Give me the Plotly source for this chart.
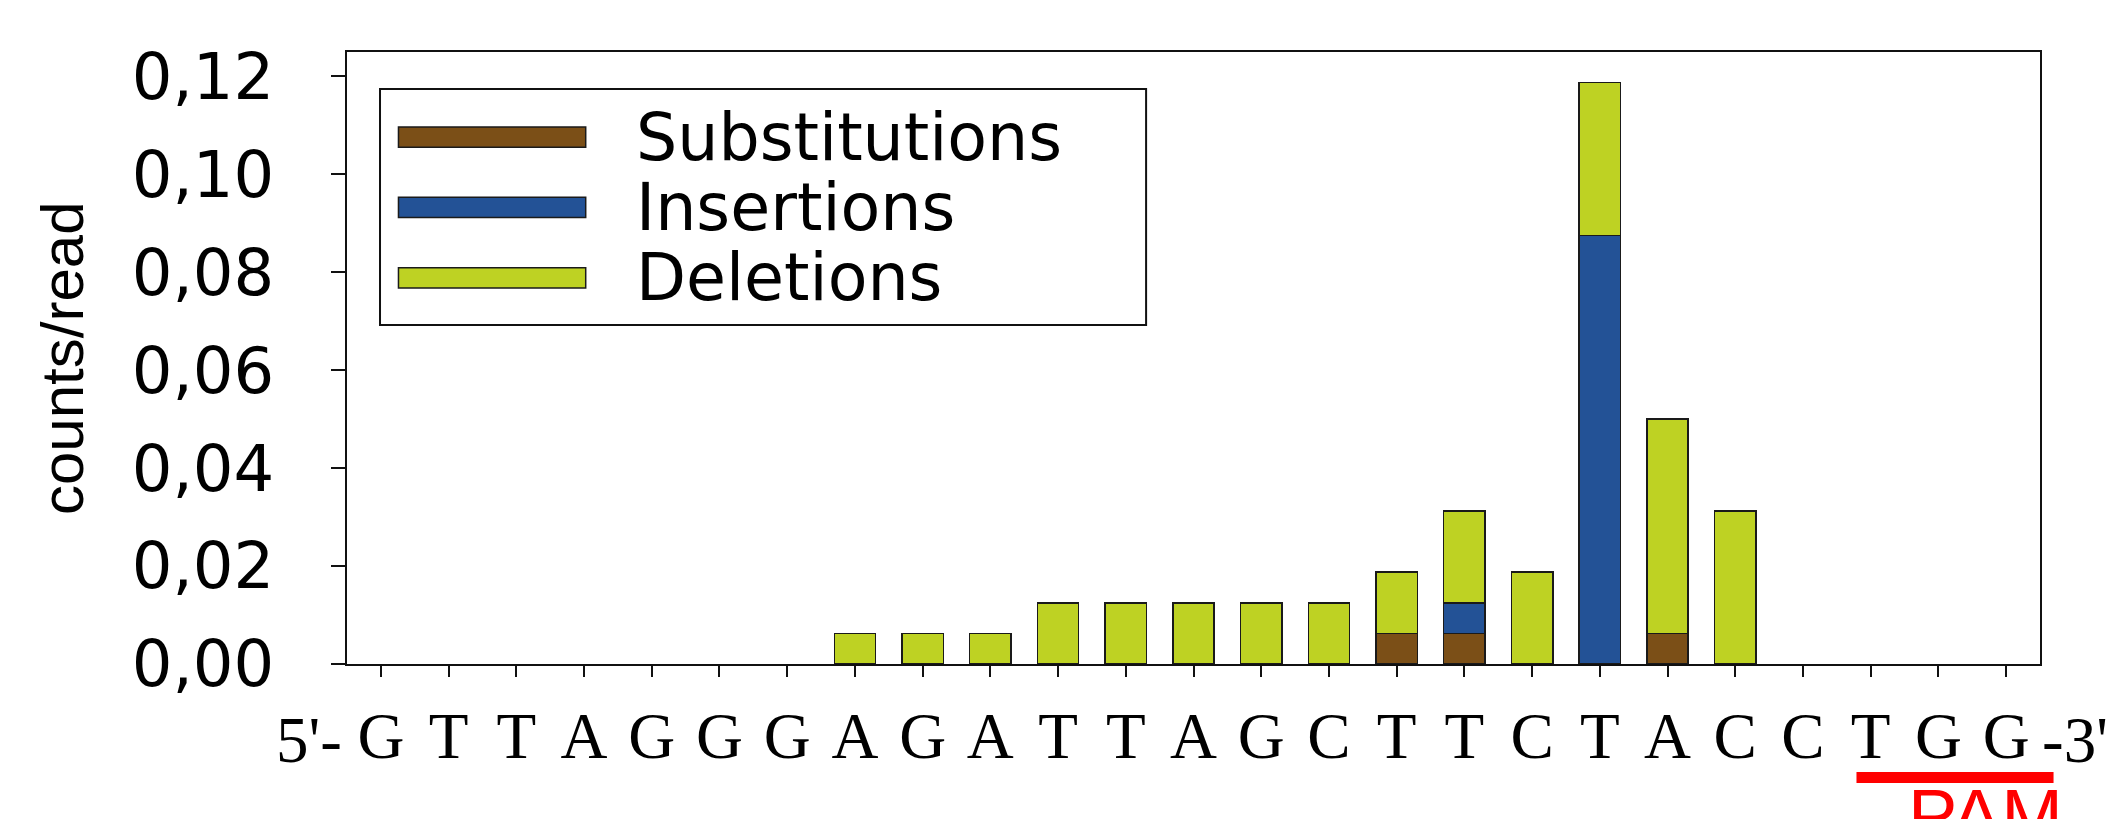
import plotly.graph_objects as go

# ---- data ----
bases = list("GTTAGGGAGATTAGCTTCTACCTGG")
series_names = ["Substitutions", "Insertions", "Deletions"]
substitutions = [0, 0, 0, 0, 0, 0, 0, 0, 0, 0, 0, 0, 0, 0, 0,
                 0.00625, 0.00625, 0, 0, 0.00625, 0, 0, 0, 0, 0]
insertions = [0, 0, 0, 0, 0, 0, 0, 0, 0, 0, 0, 0, 0, 0, 0,
              0, 0.00625, 0, 0.0875, 0, 0, 0, 0, 0, 0]
deletions = [0, 0, 0, 0, 0, 0, 0, 0.00625, 0.00625, 0.00625, 0.0125, 0.0125, 0.0125, 0.0125, 0.0125,
             0.0125, 0.01875, 0.01875, 0.03125, 0.04375, 0.03125, 0, 0, 0, 0]
colors = ["#7B4F17", "#235296", "#BED223"]
y_ticks = [0, 0.02, 0.04, 0.06, 0.08, 0.10, 0.12]

xs = list(range(len(bases)))
n = len(bases)

fig = go.Figure()
for name, vals, col in zip(series_names, [substitutions, insertions, deletions], colors):
    fig.add_trace(go.Bar(
        x=xs, y=[v if v else None for v in vals], name=name, width=0.61,
        marker=dict(color=col, line=dict(color="#1a1a1a", width=1.5)),
        showlegend=False,
    ))

sans = "DejaVu Sans"
fig.update_layout(
    width=2124, height=819,
    barmode="stack",
    separators=",.",
    plot_bgcolor="white", paper_bgcolor="white",
    margin=dict(l=347, r=84, t=52, b=155, pad=0),
    xaxis=dict(
        range=[-0.5, n - 0.5], tickmode="array", tickvals=xs, ticktext=bases,
        ticks="outside", ticklen=11, tickwidth=2, tickcolor="#111",
        showline=True, linecolor="#111", linewidth=2, mirror=True,
        showgrid=False, zeroline=False,
        tickfont=dict(family="Liberation Serif", size=65, color="black"),
        ticklabelstandoff=3,
    ),
    yaxis=dict(
        range=[0, 0.125], tickmode="array", tickvals=y_ticks,
        tickformat=".2f",
        ticks="outside", ticklen=14, tickwidth=2, tickcolor="#111",
        showline=True, linecolor="#111", linewidth=2, mirror=True,
        showgrid=False, zeroline=False,
        tickfont=dict(family=sans, size=64, color="black"),
        ticklabelstandoff=44,
    ),
)

# y-axis title
fig.add_annotation(
    text="counts/read", xref="paper", yref="paper", x=0, y=0.5,
    xanchor="center", yanchor="middle", xshift=-285, textangle=-90,
    showarrow=False,
    font=dict(family="Liberation Sans", size=60, color="black"),
)

# 5' / 3' labels
serif = dict(family="Liberation Serif", size=65, color="black")
fig.add_annotation(text="5'-", xref="paper", yref="paper", x=(0 - 0.5 + 0.45) / n, y=-0.062,
                   xanchor="right", yanchor="top", showarrow=False, font=serif)
fig.add_annotation(text="-3'", xref="paper", yref="paper", x=1.0, y=-0.062,
                   xanchor="left", yanchor="top", showarrow=False, font=serif)

# PAM marker
pam_start, pam_end = n - 3, n - 1
fig.add_shape(type="rect", xref="paper", yref="paper",
              x0=(pam_start - 0.21 + 0.5) / n, x1=(pam_end + 0.70 + 0.5) / n,
              y0=-0.1765, y1=-0.1944, fillcolor="#FF0000", line=dict(width=0))
fig.add_annotation(text="PAM", xref="paper", yref="paper",
                   x=(pam_start + 1 + 0.7 + 0.5) / n, y=-0.177,
                   xanchor="center", yanchor="top", showarrow=False,
                   font=dict(family="Liberation Sans", size=74, color="#FF0000"))

# custom legend
lx0, lx1, ly0, ly1 = 0.0195, 0.472, 0.554, 0.9395
fig.add_shape(type="rect", xref="paper", yref="paper", x0=lx0, x1=lx1, y0=ly0, y1=ly1,
              fillcolor="white", line=dict(color="#111", width=2), layer="above")
row_y = [0.861, 0.746, 0.631]
for name, col, ry in zip(series_names, colors, row_y):
    fig.add_shape(type="rect", xref="paper", yref="paper", x0=0.0304, x1=0.141,
                  y0=ry - 0.0165, y1=ry + 0.0165, fillcolor=col,
                  line=dict(color="#1a1a1a", width=1.5), layer="above")
    fig.add_annotation(text=name, xref="paper", yref="paper", x=0.1695, y=ry,
                       xanchor="left", yanchor="middle", showarrow=False,
                       font=dict(family=sans, size=65, color="black"))

fig.write_html("out.html", config={"displayModeBar": False},
               post_script="document.body.style.margin='0px';document.body.style.overflow='hidden';")
